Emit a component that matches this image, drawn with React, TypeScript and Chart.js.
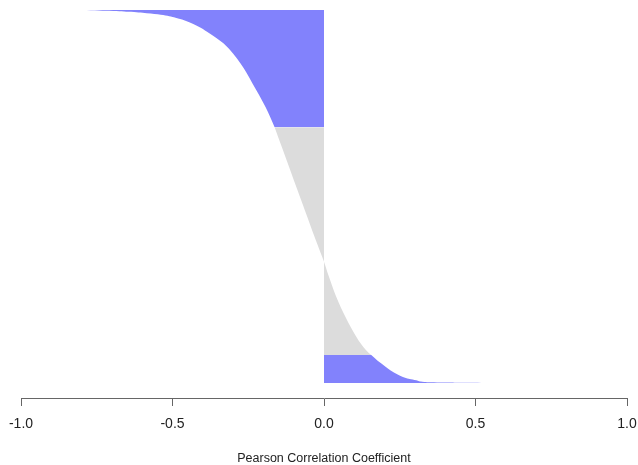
import React, { useEffect, useRef } from "react";
import { Chart, registerables } from "chart.js";

Chart.register(...registerables);

// rank position (0 = top, 1 = bottom) and Pearson correlation coefficient
const topBlueRank = [0.0, 0.002, 0.005, 0.009, 0.013, 0.021, 0.031, 0.044, 0.058, 0.09, 0.143, 0.197, 0.26, 0.314];
const topBlueR = [-0.826, -0.72, -0.645, -0.585, -0.539, -0.49, -0.451, -0.415, -0.386, -0.331, -0.276, -0.236, -0.193, -0.163];

const greyRank = [0.314, 0.37, 0.43, 0.475, 0.519, 0.555, 0.591, 0.63, 0.663, 0.675, 0.705, 0.735, 0.768, 0.798, 0.826, 0.851, 0.875, 0.896, 0.912, 0.925];
const greyR = [-0.163, -0.138, -0.111, -0.091, -0.071, -0.055, -0.039, -0.021, -0.0055, 0.0, 0.012, 0.025, 0.04, 0.056, 0.073, 0.089, 0.106, 0.123, 0.139, 0.156];

const bottomBlueRank = [0.925, 0.94, 0.954, 0.966, 0.977, 0.985, 0.99, 0.994, 0.997, 0.9985, 0.9995, 1.0];
const bottomBlueR = [0.156, 0.177, 0.2, 0.22, 0.243, 0.265, 0.287, 0.31, 0.331, 0.4, 0.52, 0.68];

const xTicks = [-1.0, -0.5, 0.0, 0.5, 1.0];
const xTitle = "Pearson Correlation Coefficient";

const BLUE = "#8282FC";
const GREY = "#DCDCDC";

function pts(rank: number[], r: number[]) {
  return rank.map((y, i) => ({ x: r[i], y }));
}

export default function App() {
  const ref = useRef<HTMLCanvasElement | null>(null);
  useEffect(() => {
    if (!ref.current) return;
    const mk = (data: any, color: string) => ({
      data,
      borderWidth: 0,
      borderColor: color,
      backgroundColor: color,
      pointRadius: 0,
      fill: { value: 0 },
      cubicInterpolationMode: "monotone" as const,
    });
    const chart = new Chart(ref.current, {
      type: "line",
      data: {
        datasets: [
          mk(pts(topBlueRank, topBlueR), BLUE),
          mk(pts(greyRank, greyR), GREY),
          mk(pts(bottomBlueRank, bottomBlueR), BLUE),
        ] as any,
      },
      options: {
        indexAxis: "y",
        responsive: false,
        animation: false,
        layout: { padding: { left: 21, right: 11, top: 10, bottom: 0 } },
        plugins: { legend: { display: false }, tooltip: { enabled: false } },
        scales: {
          y: { type: "linear", reverse: true, min: 0, max: 1.04, display: false },
          x: {
            type: "linear",
            min: -1,
            max: 1,
            afterBuildTicks: (axis: any) => {
              axis.ticks = xTicks.map((v) => ({ value: v }));
            },
            afterFit: (scale: any) => {
              scale.paddingLeft = 0;
              scale.paddingRight = 0;
              scale.height = 67;
            },
            ticks: {
              callback: (v: any) => Number(v).toFixed(1),
              color: "#222",
              font: { family: "Liberation Sans", size: 14 },
              padding: 10,
              maxRotation: 0,
              autoSkip: false,
            },
            grid: {
              drawOnChartArea: false,
              drawTicks: true,
              tickLength: 8,
              color: "#666",
            },
            border: { display: true, color: "#666", width: 1 },
            title: {
              display: true,
              text: xTitle,
              color: "#222",
              font: { family: "Liberation Sans", size: 12.5, lineHeight: 1.0 },
              padding: { top: 10, bottom: 0 },
            },
          },
        },
      },
    });
    return () => chart.destroy();
  }, []);
  return (
    <div style={{ position: "fixed", left: 0, top: 0, width: 638, height: 465, background: "#fff" }}>
      <canvas ref={ref} width={638} height={465} style={{ display: "block" }} />
    </div>
  );
}
